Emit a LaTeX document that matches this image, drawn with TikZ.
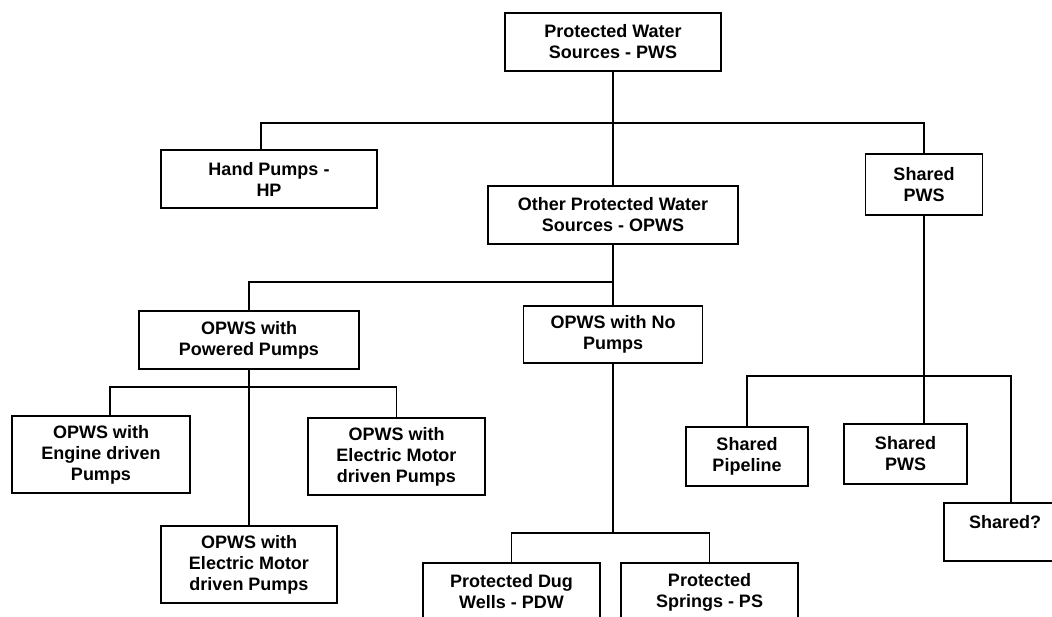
\documentclass[tikz,border=0pt]{standalone}
\usepackage{fontspec}
\setmainfont{Liberation Sans}
\tikzset{
  box/.style={draw, line width=1.6pt, fill=white, align=center, inner sep=0pt,
    font=\bfseries\fontsize{18}{21}\selectfont, minimum height=58pt}
}
\begin{document}
\begin{tikzpicture}[x=1pt,y=-1pt]
      \useasboundingbox (0,0) rectangle (1052,616);
      \draw[every node/.style=box]
        (613,42) node[minimum width=216pt] (pws){Protected Water\\Sources - PWS}
        (269,179) node[minimum width=216pt] (hp){Hand Pumps -\\HP}
        (613,215) node[minimum width=250pt] (opws){Other Protected Water\\Sources - OPWS}
        (924,184.5) node[minimum width=117pt, minimum height=61pt] (shd){Shared\\PWS}
        (249,340) node[minimum width=220pt] (pow){OPWS with\\Powered Pumps}
        (613,334.5) node[minimum width=179pt, minimum height=57pt] (nop){OPWS with No\\Pumps}
        (101,454.5) node[minimum width=178pt, minimum height=77pt] (eng){OPWS with\\Engine driven\\Pumps}
        (396.5,456.5) node[minimum width=177pt, minimum height=77pt] (elt){OPWS with\\Electric Motor\\driven Pumps}
        (249,564.5) node[minimum width=176pt, minimum height=77pt] (elb){OPWS with\\Electric Motor\\driven Pumps}
        (747,456.5) node[minimum width=122pt, minimum height=59pt] (spl){Shared\\Pipeline}
        (905.5,454) node[minimum width=123pt, minimum height=60pt] (sp2){Shared\\PWS}
        (1005,532) node[minimum width=122pt] (shq){Shared?\\\mbox{}}
        (511.5,592) node[minimum width=177pt] (pdw){Protected Dug\\Wells - PDW}
        (709.5,592) node[minimum width=177pt] (ps){Protected\\Springs - PS};
      \coordinate (j1) at (613,123);
      \coordinate (j2) at (613,282);
      \coordinate (j3) at (249,387);
      \coordinate (j4) at (613,533);
      \coordinate (j5) at (924,376);
      \begin{scope}[line width=1.4pt]
        \draw (pws) -- (opws);
        \draw ([xshift=-8pt]hp.north) |- (j1) -| (shd);
        \draw (opws) -- (nop);
        \draw (pow) |- (j2);
        \draw (pow) -- (elb);
        \draw ([xshift=9pt]eng.north) |- (j3) -| (elt);
        \draw (nop) -- (j4);
        \draw (pdw) |- (j4) -| (ps);
        \draw (shd) -- (shd |- sp2.north);
        \draw (spl) |- (j5) -| ([xshift=6pt]shq.north);
      \end{scope}
    \end{tikzpicture}
\end{document}
